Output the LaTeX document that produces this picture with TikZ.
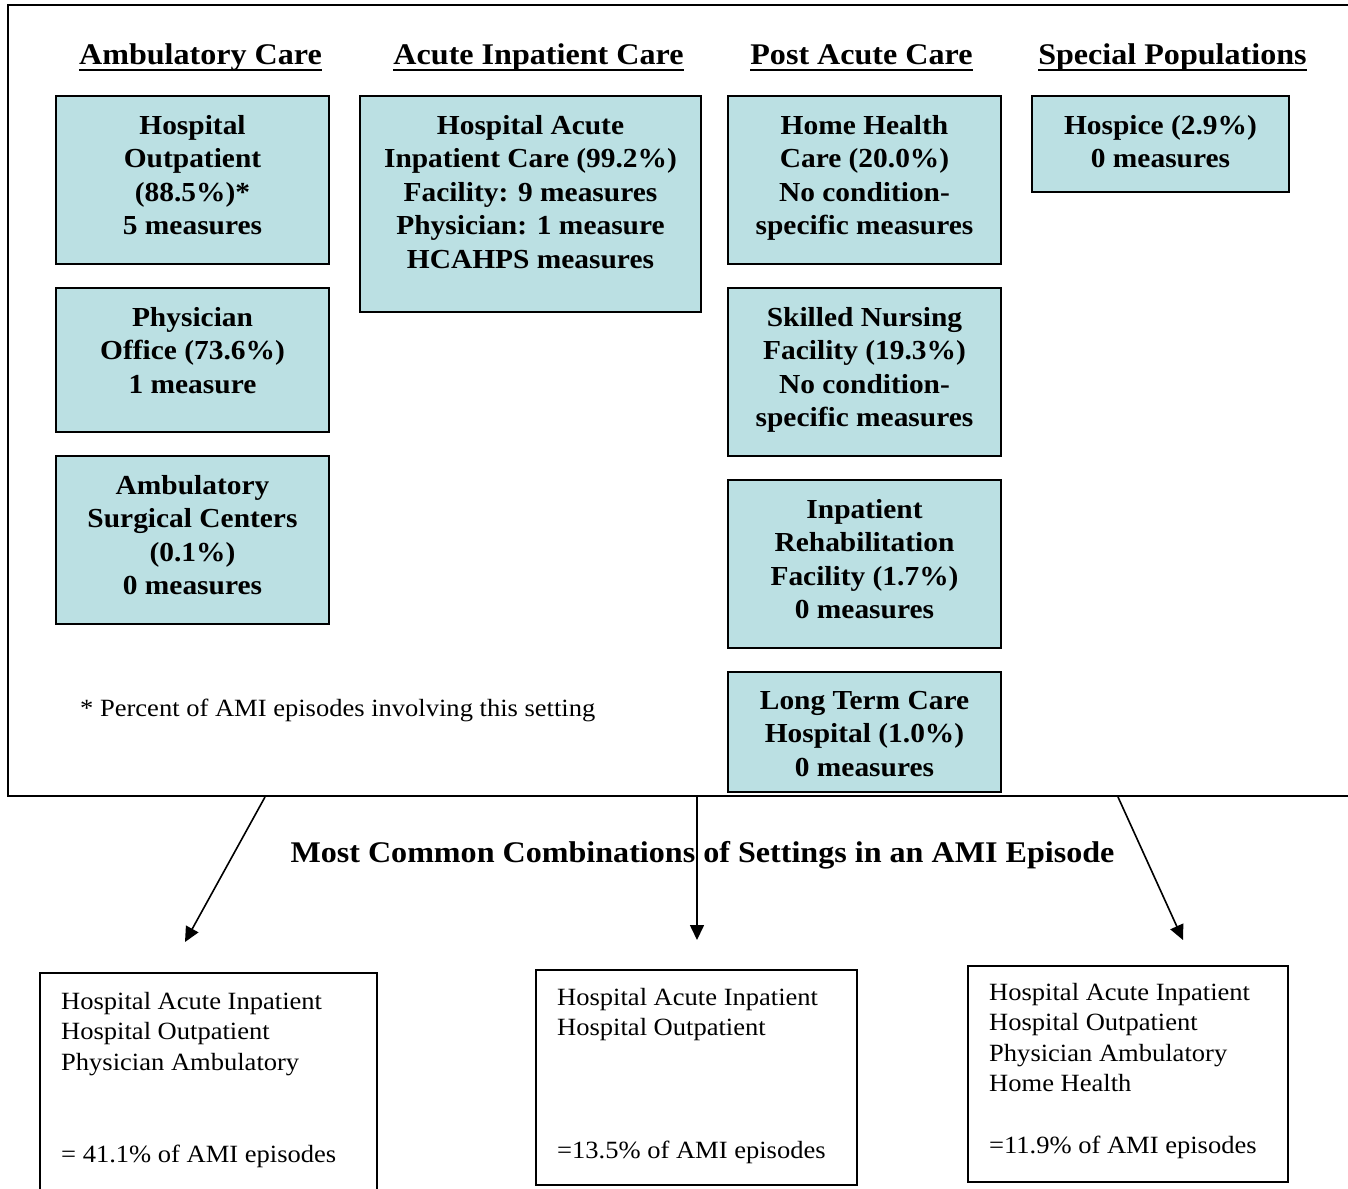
\documentclass[tikz,border=0pt]{standalone}
\usepackage{fontspec}
\setmainfont[FakeStretch=1.07]{Liberation Serif}
\usetikzlibrary{arrows.meta}
\definecolor{boxblue}{RGB}{187,224,227}
\begin{document}
\begin{tikzpicture}[x=1pt,y=-1pt,
  setbox/.style={draw=black, line width=1.8pt, fill=boxblue, inner sep=0pt, outer sep=0pt, anchor=north west},
  settxt/.style={anchor=north, align=center, inner sep=0pt, font=\fontsize{27.5pt}{33.5pt}\selectfont\bfseries},
  head/.style={anchor=base, inner sep=0pt, font=\fontsize{30pt}{36pt}\selectfont\bfseries},
  uline/.style={line width=2.6pt},
  combo/.style={draw=black, line width=1.6pt, inner sep=0pt, outer sep=0pt, anchor=north west},
  combotxt/.style={anchor=north west, align=left, inner sep=0pt, font=\fontsize{24.8pt}{30.5pt}\selectfont},
  combolast/.style={anchor=base west, inner sep=0pt, font=\fontsize{24.8pt}{30.5pt}\selectfont},
  arr/.style={line width=1.6pt, -{Triangle[length=15pt,width=14pt]}}
]
\useasboundingbox (0,0) rectangle (1348,1188);
% outer frame (open to the right)
\draw[line width=2pt] (1360,5) -- (7.5,5) -- (7.5,796) -- (1360,796);

% headings
\node[head] (h1) at (200.5,65) {Ambulatory Care};
\node[head] (h2) at (538.5,65) {Acute Inpatient Care};
\node[head] (h3) at (861.5,65) {Post Acute Care};
\node[head] (h4) at (1172.5,65) {Special Populations};
\foreach \h in {h1,h2,h3,h4}
  \draw[uline] ([yshift=-5pt]\h.base west) -- ([yshift=-5pt]\h.base east);

% setting boxes
\node[setbox, minimum width=273pt, minimum height=168pt] (ho) at (56,96) {};
\node[settxt] (hot) at ([yshift=-19pt]ho.north) {Hospital\\Outpatient\\(88.5\%)*\\5 measures};
\node[setbox, minimum width=273pt, minimum height=144pt] (po) at (56,288) {};
\node[settxt] (pot) at ([yshift=-19pt]po.north) {Physician\\Office (73.6\%)\\1 measure};
\node[setbox, minimum width=273pt, minimum height=168pt] (asc) at (56,456) {};
\node[settxt] (asct) at ([yshift=-19pt]asc.north) {Ambulatory\\Surgical Centers\\(0.1\%)\\0 measures};
\node[setbox, minimum width=341pt, minimum height=216pt] (hai) at (360,96) {};
\node[settxt] (hait) at ([yshift=-19pt]hai.north) {Hospital Acute\\Inpatient Care (99.2\%)\\Facility: 9 measures\\Physician: 1 measure\\HCAHPS measures};
\node[setbox, minimum width=273pt, minimum height=168pt] (hh) at (728,96) {};
\node[settxt] (hht) at ([yshift=-19pt]hh.north) {Home Health\\Care (20.0\%)\\No condition-\\specific measures};
\node[setbox, minimum width=273pt, minimum height=168pt] (snf) at (728,288) {};
\node[settxt] (snft) at ([yshift=-19pt]snf.north) {Skilled Nursing\\Facility (19.3\%)\\No condition-\\specific measures};
\node[setbox, minimum width=273pt, minimum height=168pt] (irf) at (728,480) {};
\node[settxt] (irft) at ([yshift=-19pt]irf.north) {Inpatient\\Rehabilitation\\Facility (1.7\%)\\0 measures};
\node[setbox, minimum width=273pt, minimum height=120pt] (ltc) at (728,672) {};
\node[settxt] (ltct) at ([yshift=-19pt]ltc.north) {Long Term Care\\Hospital (1.0\%)\\0 measures};
\node[setbox, minimum width=257pt, minimum height=96pt] (hsp) at (1032,96) {};
\node[settxt] (hspt) at ([yshift=-19pt]hsp.north) {Hospice (2.9\%)\\0 measures};

% footnote
\node[combolast] (fn) at (80,716) {* Percent of AMI episodes involving this setting};

% title
\node[head] (title) at (702.5,862) {Most Common Combinations of Settings in an AMI Episode};

% combination boxes
\node[combo, minimum width=337pt, minimum height=240pt] (c1) at (40,973) {};
\node[combotxt] (c1t) at (61,992) {Hospital Acute Inpatient\\Hospital Outpatient\\Physician Ambulatory};
\node[combolast] (c1p) at (61,1162) {= 41.1\% of AMI episodes};
\node[combo, minimum width=321pt, minimum height=215pt] (c2) at (536,970) {};
\node[combotxt] (c2t) at (557,988) {Hospital Acute Inpatient\\Hospital Outpatient};
\node[combolast] (c2p) at (557,1158) {=13.5\% of AMI episodes};
\node[combo, minimum width=320pt, minimum height=216pt] (c3) at (968,966) {};
\node[combotxt] (c3t) at (989,983) {Hospital Acute Inpatient\\Hospital Outpatient\\Physician Ambulatory\\Home Health};
\node[combolast] (c3p) at (989,1153) {=11.9\% of AMI episodes};

% arrows
\coordinate (a1s) at (265,797);
\coordinate (a1e) at (185,942);
\coordinate (a2s) at (697,797);
\coordinate (a2e) at (697,940);
\coordinate (a3s) at (1118,797);
\coordinate (a3e) at (1183,940);
\draw[arr] (a1s) -- (a1e);
\draw[arr] (a2s) -- (a2e);
\draw[arr] (a3s) -- (a3e);
\end{tikzpicture}
\end{document}
